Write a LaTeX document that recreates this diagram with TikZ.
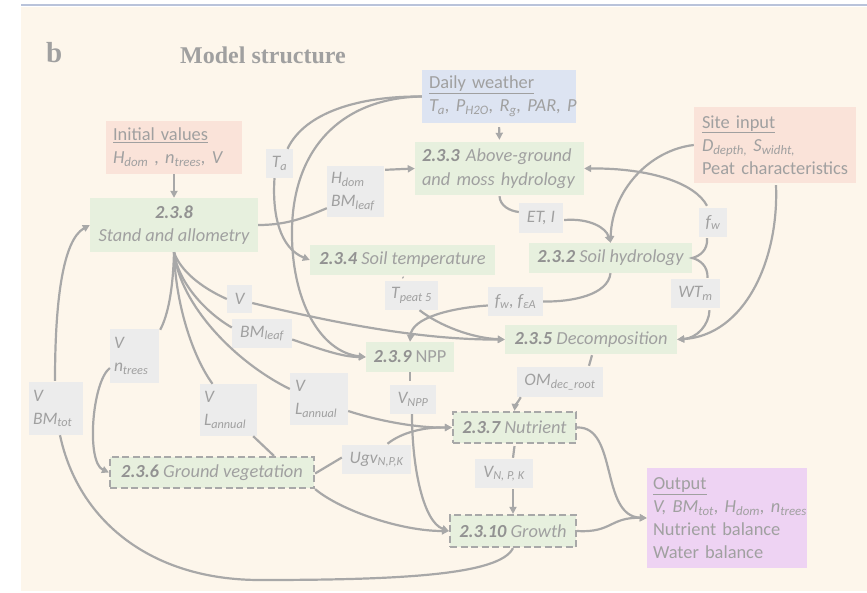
\documentclass[tikz,border=0pt]{standalone}
\usepackage{fontspec}
\setmainfont{Carlito}
\newfontfamily\serifhead{Liberation Serif}
\usetikzlibrary{arrows.meta,calc}

\definecolor{bgcream}{HTML}{FDF6EB}
\definecolor{rulecol}{HTML}{B9C3DA}
\definecolor{txt}{HTML}{A0A0A0}
\definecolor{numtxt}{HTML}{929292}
\definecolor{linecol}{HTML}{A8A8A8}
\definecolor{modgreen}{HTML}{E7F0DE}
\definecolor{labgrey}{HTML}{ECECEC}
\definecolor{wxblue}{HTML}{DDE4F2}
\definecolor{salmon}{HTML}{FAE3D9}
\definecolor{outpink}{HTML}{EED3F3}

\newcommand{\secnum}[1]{{\color{numtxt}\bfseries #1}}
\newcommand{\sub}[1]{\textsubscript{#1}}

\tikzset{
  base/.style={inner sep=0pt, font=\fontsize{18.4}{23}\selectfont, text=txt},
  sz/.style 2 args={minimum width=#1pt, minimum height=#2pt},
  lefttext/.style 2 args={text width=#1pt, inner xsep=#2pt, align=left},
  module/.style={base, fill=modgreen, font=\fontsize{18.4}{23.5}\selectfont\itshape},
  dashmod/.style={module, draw=linecol, line width=2.2pt, dash pattern=on 7pt off 3.5pt},
  lab/.style={base, fill=labgrey, font=\fontsize{17.5}{23}\selectfont\itshape},
  inbox/.style={base, fill=#1},
  conn/.style={draw=linecol, line width=2.2pt},
  arr/.style={conn, -{Triangle[length=7pt,width=7pt]}}
}

\begin{document}
\begin{tikzpicture}[x=1pt, y=-1pt]
\useasboundingbox (0,0) rectangle (867,592);
% page background and top rule
\fill[white] (0,0) rectangle (867,592);
\fill[bgcream] (21,7) rectangle (867,591);
\draw[rulecol, line width=2pt] (21,5) -- (867,5);

% heading
\node[anchor=base west, inner sep=0pt, text=txt, font=\serifhead\bfseries\fontsize{29}{30}\selectfont] (panel) at (46,62) {b};
\node[anchor=base west, inner sep=0pt, text=txt, font=\serifhead\bfseries\fontsize{24}{28}\selectfont] (title) at (180,63) {Model structure};

% inputs and output
\node[inbox=wxblue, sz={154}{53}, lefttext={140}{7}] (weather) at (499,96.5)
  {\underline{Daily weather}\\ \mbox{\textit{T\sub{a}, P\sub{H2O}, R\sub{g}, PAR, P}}};
\node[inbox=salmon, sz={136}{53}, lefttext={122}{7}] (initv) at (174,147.5)
  {\underline{Initial values}\\ \mbox{\textit{H\sub{dom} , n\sub{trees}, V}}};
\node[inbox=salmon, sz={162}{76}, lefttext={146}{8}] (site) at (775,145)
  {\underline{Site input}\\ \mbox{\textit{D\sub{depth,} S\sub{widht,}}}\\ \mbox{Peat characteristics}};
\node[inbox=outpink, sz={160}{100}, lefttext={148}{6}] (out) at (727,518)
  {\underline{Output}\\ \mbox{\textit{V, BM\sub{tot}, H\sub{dom}, n\sub{trees}}}\\ \mbox{Nutrient balance}\\ \mbox{Water balance}};

% model components
\node[module, sz={169}{53}, lefttext={155}{7}] (m233) at (499.5,168.5)
  {\mbox{\secnum{2.3.3} Above-ground}\\ \mbox{and moss hydrology}};
\node[module, sz={168}{54}, align=center] (m238) at (174,225)
  {\secnum{2.3.8}\\ Stand and allometry};
\node[module, sz={185}{30}] (m234) at (402.5,260) {\secnum{2.3.4} Soil temperature};
\node[module, sz={163}{30}] (m232) at (610.5,258) {\secnum{2.3.2} Soil hydrology};
\node[module, sz={172}{29}] (m235) at (591,339.5) {\secnum{2.3.5} Decomposition};
\node[module, sz={88}{30}] (m239) at (410,357) {\secnum{2.3.9} \textup{NPP}};
\node[dashmod, sz={204}{31}] (m236) at (212,472.5) {\secnum{2.3.6} Ground vegetation};
\node[dashmod, sz={123}{31}] (m237) at (514.5,427.5) {\secnum{2.3.7} Nutrient};
\node[dashmod, sz={126}{32}] (m2310) at (513,531) {\secnum{2.3.10} Growth};

% variable labels
\node[lab, sz={27}{29}] (lTa) at (279.5,163.5) {T\sub{a}};
\node[lab, sz={57}{51}, lefttext={49}{4}] (lHB) at (355.5,191.5) {H\sub{dom}\\ \mbox{BM\sub{leaf}}};
\node[lab, sz={44}{30}] (lET) at (541,218) {ET, I};
\node[lab, sz={28}{29}] (lfw) at (713,222.5) {f\sub{w}};
\node[lab, sz={49}{29}] (lWT) at (695.5,293.5) {WT\sub{m}};
\node[lab, sz={55}{29}] (lff) at (515.5,301.5) {f\sub{w}, f\sub{εA}};
\node[lab, sz={53}{29}] (lTp) at (411.5,295.5) {T\sub{peat 5}};
\node[lab, sz={86}{30}] (lOM) at (560,382) {OM\sub{dec\_root}};
\node[lab, sz={46}{29}] (lVN) at (413,399.5) {V\sub{NPP}};
\node[lab, sz={25}{28}] (lV) at (239.5,299) {V};
\node[lab, sz={60}{29}] (lBM) at (262,333.5) {BM\sub{leaf}};
\node[lab, sz={58}{52}, lefttext={48}{5}] (lVLr) at (319,399) {V\\ \mbox{L\sub{annual}}};
\node[lab, sz={57}{52}, lefttext={49}{4}] (lVLl) at (228.5,410) {V\\ \mbox{L\sub{annual}}};
\node[lab, sz={49}{54}, lefttext={41}{4}] (lVn) at (134.5,356) {V\\ \mbox{n\sub{trees}}};
\node[lab, sz={54}{53}, lefttext={46}{4}] (lVB) at (56,408.5) {V\\ \mbox{BM\sub{tot}}};
\node[lab, sz={69}{29}] (lUgv) at (376.5,459.5) {Ugv\sub{N,P,K}};
\node[lab, sz={58}{29}] (lVNPK) at (504,473.5) {V\sub{N, P, K}};

% inputs feeding the model
\draw[arr] (initv.south) -- (m238.north);
\draw[arr, shorten <=4pt, shorten >=2pt] (weather.south) -- (m233.north);
\draw[conn] (weather.west) .. controls (360,96) and (305,112) .. ($(lTa.north)+(8,0)$);
\draw[arr] ($(lTa.south)+(-5,0)$) .. controls (272,215) and (280,248) .. (m234.west);
\draw[arr] (weather.west) .. controls (340,98) and (293,150) .. (292,230)
  .. controls (291,300) and (320,352) .. (m239.west);
\draw[arr] ($(lET.east)+(1,2)$) .. controls (590,218) and (606,228) .. (m232.north);
\draw[arr] (site.west) .. controls (650,150) and (612,190) .. (m232.north);
\draw[arr] ($(site.south)+(1,2)$) .. controls (779,260) and (745,335) .. (m235.east);

% height and leaf biomass to canopy hydrology
\draw[conn] (m238.east) .. controls (290,225) and (308,216) .. ($(lHB.south west)+(0,-9)$);
\draw[arr] ($(lHB.north east)+(1,4)$) -- (m233.west);

% hydrology links
\draw[conn] ($(m233.south)+(0,1)$) .. controls (500,206) and (510,211) .. ($(lET.west)+(0,-6)$);
\draw[conn] ($(lfw.south)+(-6,1)$) .. controls (708,250) and (700,256) .. (m232.east)
  .. controls (700,260) and (708,266) .. ($(lWT.north)+(12,-1)$);
\draw[arr] ($(lfw.north)+(-6,-2)$) .. controls (695,183) and (650,168) .. (m233.east);
\draw[arr] ($(lWT.south)+(14,2)$) .. controls (709,325) and (697,338) .. (m235.east);
\draw[conn] (m232.south) .. controls (608,295) and (572,302) .. (lff.east);
\draw[arr] ($(lff.west)+(0,4)$) .. controls (450,308) and (412,318) .. (m239.north);
\draw[conn] ($(m234.south)+(0,2)$) -- ($(lTp.north)+(-8,-3)$);
\draw[arr] ($(lTp.south)+(8,0)$) .. controls (440,326) and (472,338) .. (m235.west);

% outputs of stand and allometry
\draw[conn] (m238.south) .. controls (180,270) and (200,287) .. (lV.west);
\draw[arr] ($(lV.east)+(0,4)$) .. controls (330,322) and (420,340) .. (m235.west);
\draw[conn] (m238.south) .. controls (178,282) and (205,312) .. ($(lBM.west)+(0,-6)$);
\draw[arr] ($(lBM.east)+(0,6)$) .. controls (320,349) and (342,357) .. (m239.west);
\draw[conn] (m238.south) .. controls (180,305) and (235,362) .. ($(lVLr.west)+(0,-10)$);
\draw[arr] ($(lVLr.east)+(0,12)$) .. controls (382,422) and (420,428) .. (m237.west);
\draw[conn] (m238.south) .. controls (176,310) and (195,360) .. ($(lVLl.north)+(-16,0)$);
\draw[conn] ($(lVLl.south east)+(-4,0)$) -- ($(m236.north)+(62,0)$);
\draw[conn] (m238.south) .. controls (173,290) and (168,315) .. ($(lVn.north east)+(1,1)$);
\draw[arr] ($(lVn.west)+(0,12)$) .. controls (92,382) and (86,462) .. (m236.west);

% nutrient and growth links
\draw[conn] (m239.south) -- ($(lVN.north)+(-3,-4)$);
\draw[arr] ($(lVN.south)+(-1,0)$) .. controls (412,470) and (424,522) .. (m2310.west);
\draw[conn] ($(m236.east)+(0,1)$) -- ($(lUgv.west)+(0,-2)$);
\draw[arr] ($(lUgv.north)+(11,-1)$) .. controls (402,432) and (425,427) .. (m237.west);
\draw[arr] (m236.south east) .. controls (340,510) and (400,531) .. (m2310.west);
\draw[conn] ($(m235.south)+(1,1)$) -- ($(lOM.north)+(29,-1)$);
\draw[arr] ($(lOM.south west)+(4,0)$) .. controls (518,402) and (515,406) .. (m237.north);
\draw[conn] ($(m237.south)+(0,2)$) -- ($(lVNPK.north)+(9,-1)$);
\draw[arr] ($(lVNPK.south)+(9,1)$) -- (m2310.north);
\draw[arr] (m237.east) .. controls (618,426) and (600,516) .. (out.west);
\draw[arr] (m2310.east) .. controls (612,533) and (610,517) .. (out.west);

% feedback of stand state
\draw[conn] (m2310.south) .. controls (500,575) and (400,580) .. (260,580)
  .. controls (150,580) and (78,520) .. ($(lVB.south)+(4,0)$);
\draw[arr] ($(lVB.north)+(-1,-1)$) .. controls (55,300) and (63,240) .. (m238.west);
\end{tikzpicture}
\end{document}
